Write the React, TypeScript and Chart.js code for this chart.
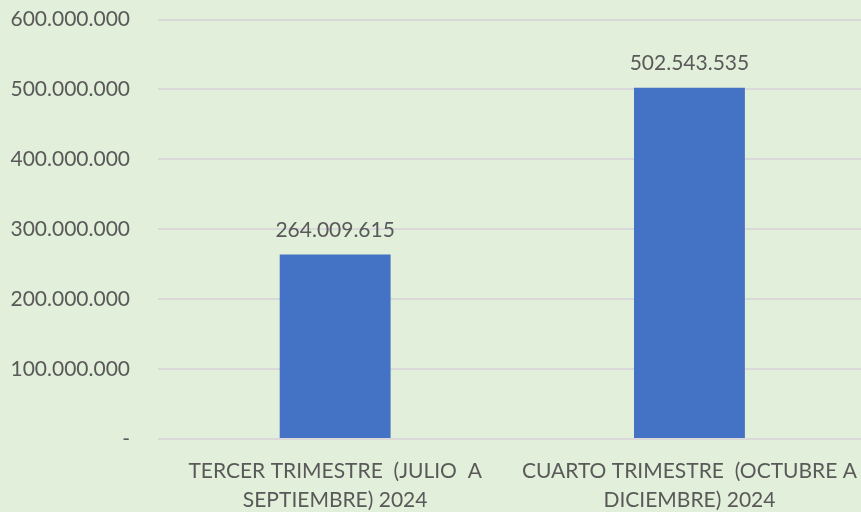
import React, { useEffect, useRef } from "react";
import { Chart, registerables } from "chart.js";

Chart.register(...registerables);

const categories: string[][] = [
  ["TERCER TRIMESTRE  (JULIO  A", "SEPTIEMBRE) 2024"],
  ["CUARTO TRIMESTRE  (OCTUBRE A", "DICIEMBRE) 2024"],
];
const values: number[] = [264009615, 502543535];
const yMin = 0;
const yMax = 600000000;
const yStep = 100000000;

const FONT = "Lato, 'Noto Sans', sans-serif";
const TEXT = "#595959";

function fmt(v: number): string {
  if (v === 0) return "-";
  return Math.round(v).toString().replace(/\B(?=(\d{3})+(?!\d))/g, ".");
}

const labelPlugin = {
  id: "barLabels",
  afterDatasetsDraw(chart: any) {
    const ctx = chart.ctx;
    const meta = chart.getDatasetMeta(0);
    ctx.save();
    ctx.font = `21px ${FONT}`;
    ctx.fillStyle = TEXT;
    ctx.textAlign = "center";
    ctx.textBaseline = "middle";
    meta.data.forEach((bar: any, i: number) => {
      ctx.fillText(fmt(values[i]), bar.x, bar.y - 24);
    });
    ctx.restore();
  },
};

const bgPlugin = {
  id: "bg",
  beforeDraw(chart: any) {
    const ctx = chart.ctx;
    ctx.save();
    ctx.fillStyle = "#E2EFDA";
    ctx.fillRect(0, 0, chart.width, chart.height);
    ctx.restore();
  },
};

const CW = 875;
const CH = 533;
const OFFSET_TOP = -21;

export default function App() {
  const ref = useRef<HTMLCanvasElement | null>(null);
  useEffect(() => {
    if (!ref.current) return;
    const chart = new Chart(ref.current, {
      type: "bar",
      data: {
        labels: categories,
        datasets: [
          {
            data: values,
            backgroundColor: "#4472C4",
            categoryPercentage: 1,
            barPercentage: 0.313,
          },
        ],
      },
      options: {
        animation: false,
        responsive: false,
        maintainAspectRatio: false,
        layout: { padding: { top: 0, left: 0, right: 0, bottom: 0 } },
        plugins: { legend: { display: false }, tooltip: { enabled: false } },
        scales: {
          x: {
            grid: { display: false, drawTicks: false },
            border: { display: false },
            ticks: {
              color: TEXT,
              font: { family: FONT, size: 21, lineHeight: 1.38 },
              padding: 18,
              maxRotation: 0,
              autoSkip: false,
            },
            afterFit(scale: any) {
              scale.height = 73;
            },
          },
          y: {
            min: yMin,
            max: yMax,
            grid: { color: "#D9D9D9", lineWidth: 2, drawTicks: false },
            border: { display: false },
            ticks: {
              stepSize: yStep,
              color: TEXT,
              font: { family: FONT, size: 21 },
              padding: 28,
              callback: (v: any) => fmt(Number(v)),
            },
            afterFit(scale: any) {
              scale.width = 158;
            },
          },
        },
      },
      plugins: [bgPlugin, labelPlugin],
    });
    return () => chart.destroy();
  }, []);
  return (
    <div
      style={{
        position: "fixed",
        left: 0,
        top: 0,
        width: 861,
        height: 512,
        overflow: "hidden",
        background: "#E2EFDA",
      }}
    >
      <canvas
        ref={ref}
        width={CW}
        height={CH}
        style={{ display: "block", position: "absolute", left: 0, top: OFFSET_TOP, width: CW, height: CH }}
      />
    </div>
  );
}
